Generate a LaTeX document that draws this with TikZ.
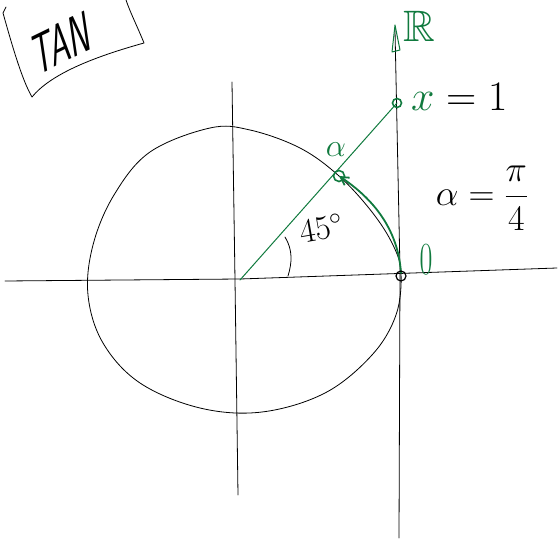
\RequirePackage{fix-cm}
\documentclass[tikz,border=0pt]{standalone}
\usepackage{amsmath,amssymb}
\definecolor{verde}{RGB}{16,122,62}
\usetikzlibrary{arrows.meta}

\begin{document}
\begin{tikzpicture}[
    x=1pt, y=-1pt,
    ink/.style={draw=black, line width=0.8pt, line cap=round, line join=round},
    pen/.style={draw=verde, line width=1pt, line cap=round, line join=round},
    marca/.style={draw=verde, line width=1.6pt},
    rotulo/.style={inner sep=0pt, text=verde},
    texto/.style={inner sep=0pt, text=black},
    >={Straight Barb[length=8pt, width=9pt]}
  ]
    \useasboundingbox (0,0) rectangle (560,540);

    % puntos
    \coordinate (O) at (240,280);
    \coordinate (Z) at (401,273);
    \coordinate (A) at (339,176);
    \coordinate (P) at (397,103);

    % cuadro del titulo
    \draw[ink] (6,7) -- (3,13) .. controls (12,45) and (22,80) .. (32,97)
      .. controls (50,75) and (90,58) .. (144,43)
      .. controls (138,28) and (130,12) .. (126,0);
    \node[texto, font=\fontsize{58}{58}\selectfont\sffamily, xscale=0.55, rotate=15] (tan) at (62,43) {TAN};

    % ejes
    \draw[ink] (5,281) -- (240,279) -- (557,268);
    \draw[ink] (232,82) -- (235,280) -- (238,495);

    % recta tangente
    \draw[ink] (395,30) -- (400,270) -- (399,538);
    \draw[pen] (392,52) -- (395,25) -- (400,50) -- cycle;
    \node[rotulo, font=\fontsize{44}{44}\selectfont, anchor=north west] (R) at (403,11) {$\mathbb{R}$};

    % circulo
    \draw[ink] plot[smooth cycle, tension=0.6] coordinates {
      (210,128) (250,130) (300,148) (339,176) (372,212) (393,245) (401,273)
      (396,315) (372,355) (325,393) (262,412) (200,408) (140,383) (103,343)
      (88,295) (93,245) (114,195) (150,152)};

    % angulo
    \draw[pen] (O) -- (P);
    \draw[ink] (285,237) .. controls (293,250) and (292,263) .. (288,276);
    \node[texto, font=\fontsize{34}{34}\selectfont, rotate=10] (grados) at (321,228) {$45^\circ$};

    % arco
    \draw[pen, line width=1.8pt, ->] (Z) .. controls (398,228) and (372,198) .. (A);
    \draw[ink, line width=1.2pt] (Z) ++(0,3) circle[radius=5];
    \draw[marca] (A) circle[radius=5.5];
    \draw[marca] (P) circle[radius=4.5];

    % rotulos
    \node[rotulo, font=\fontsize{32}{32}\selectfont] (alfa) at (336,150) {$\alpha$};
    \node[rotulo, font=\fontsize{40}{40}\selectfont, xscale=0.7, yscale=1.15] (cero) at (426,260) {$0$};
    \node[texto, font=\fontsize{42}{42}\selectfont, anchor=west] (xeq) at (411,97) {\textcolor{verde}{$x$}${}=1$};
    \node[texto, font=\fontsize{36}{36}\selectfont] (ang) at (482,198) {$\alpha=\dfrac{\pi}{4}$};
  \end{tikzpicture}
\end{document}
